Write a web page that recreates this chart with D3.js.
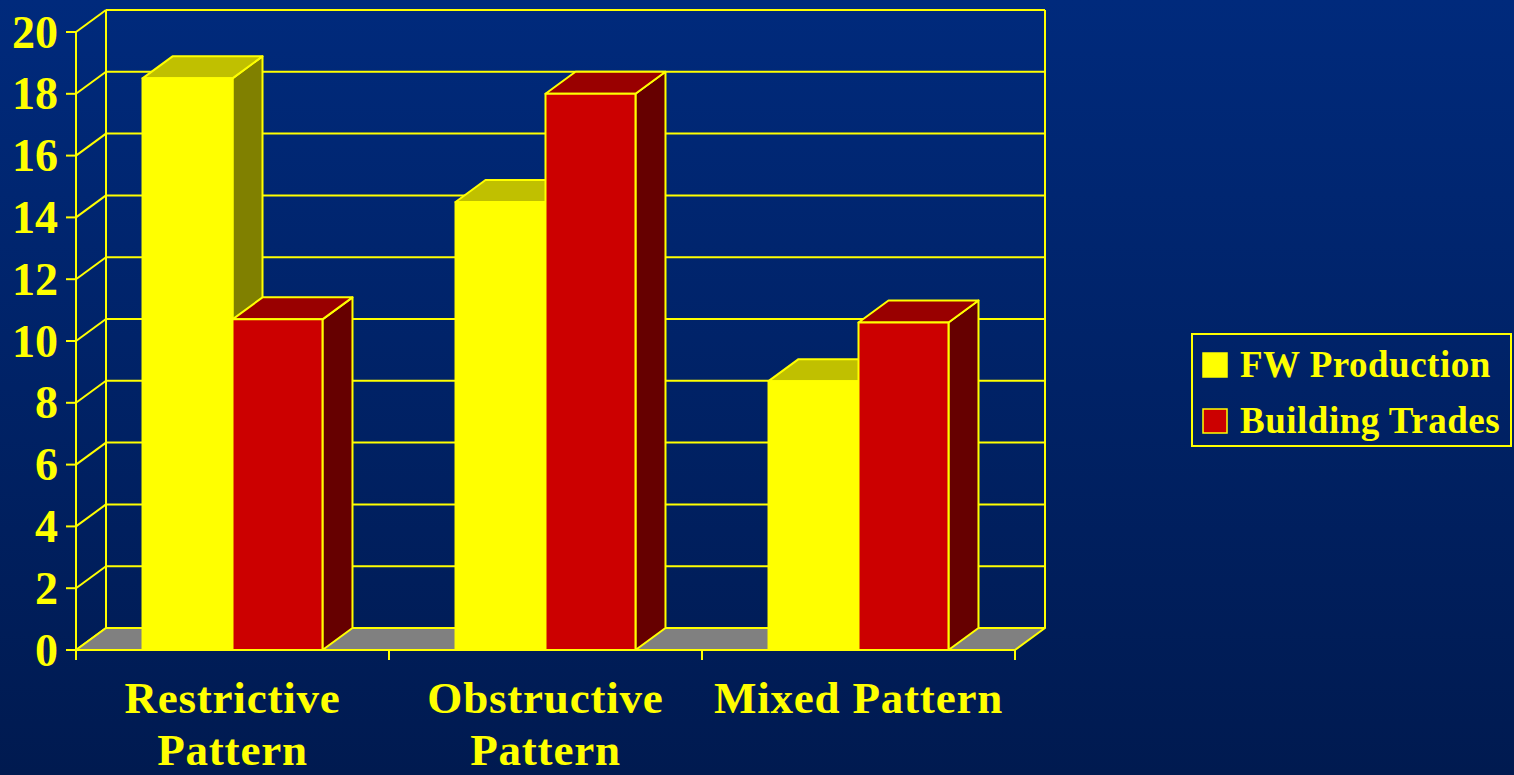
<!DOCTYPE html>
<html>
<head>
<meta charset="utf-8">
<script src="https://cdn.jsdelivr.net/npm/d3@7"></script>
<style>
  html, body { margin: 0; padding: 0; background: #001d57; }
  svg { display: block; }
</style>
</head>
<body>
<div id="chart"></div>
<script>
// chart values
const categories = ["Restrictive Pattern", "Obstructive Pattern", "Mixed Pattern"];
const categoryLines = [["Restrictive", "Pattern"], ["Obstructive", "Pattern"], ["Mixed Pattern"]];
const seriesNames = ["FW Production", "Building Trades"];
const fwProduction = [18.5, 14.5, 8.7];
const buildingTrades = [10.7, 18.0, 10.6];
const yTicks = [0, 2, 4, 6, 8, 10, 12, 14, 16, 18, 20];

const width = 1514, height = 775;
const depthX = 30, depthY = -22;   // 3d offset of the back wall
const font = "'Liberation Serif', 'Times New Roman', serif";
const yellow = "#ffff00";

// face colours per series: front, top, side
const faces = [
  { front: "#ffff00", top: "#c0c000", side: "#808000" },
  { front: "#cc0000", top: "#990000", side: "#660000" }
];

const svg = d3.select("#chart")
  .append("svg")
  .attr("width", width)
  .attr("height", height);

// background gradient
const grad = svg.append("defs").append("linearGradient")
  .attr("id", "bg").attr("x1", 0).attr("y1", 0).attr("x2", 0).attr("y2", 1);
grad.append("stop").attr("offset", "0%").attr("stop-color", "#002a7c");
grad.append("stop").attr("offset", "100%").attr("stop-color", "#001a50");
svg.append("rect").attr("width", width).attr("height", height).attr("fill", "url(#bg)");

// scales
const y = d3.scaleLinear().domain([0, 20]).range([650, 32]);
const x = d3.scaleBand()
  .domain(categories)
  .range([76, 1015])
  .paddingInner(0.425)
  .paddingOuter(0.2125);
const xs = d3.scaleBand().domain(seriesNames).range([0, x.bandwidth()]);

const x0 = x.range()[0], x1 = x.range()[1];

// back wall gridlines
const walls = svg.append("g")
  .attr("stroke", yellow)
  .attr("stroke-width", 2)
  .attr("fill", "none");

walls.selectAll(".grid")
  .data(yTicks)
  .join("line")
  .attr("x1", x0 + depthX).attr("x2", x1 + depthX)
  .attr("y1", d => y(d) + depthY).attr("y2", d => y(d) + depthY);

// left side wall diagonals
walls.selectAll(".side")
  .data(yTicks)
  .join("line")
  .attr("x1", x0).attr("x2", x0 + depthX)
  .attr("y1", d => y(d)).attr("y2", d => y(d) + depthY);

// back wall verticals
[x0 + depthX, x1 + depthX].forEach(px => {
  walls.append("line")
    .attr("x1", px).attr("x2", px)
    .attr("y1", y(0) + depthY).attr("y2", y(20) + depthY);
});

// floor
svg.append("path")
  .attr("d", `M${x0},${y(0)}L${x1},${y(0)}L${x1 + depthX},${y(0) + depthY}L${x0 + depthX},${y(0) + depthY}Z`)
  .attr("fill", "#808080")
  .attr("stroke", yellow)
  .attr("stroke-width", 2)
  .attr("stroke-linejoin", "round");

// bars
const seriesValues = [fwProduction, buildingTrades];
const bars = svg.append("g")
  .attr("stroke", yellow)
  .attr("stroke-width", 2)
  .attr("stroke-linejoin", "round");

categories.forEach((cat, ci) => {
  seriesNames.forEach((s, si) => {
    const v = seriesValues[si][ci];
    const bx = x(cat) + xs(s);
    const bw = xs.bandwidth();
    const top = y(v), base = y(0);
    const f = faces[si];
    // side face
    bars.append("path")
      .attr("d", `M${bx + bw},${top}L${bx + bw + depthX},${top + depthY}L${bx + bw + depthX},${base + depthY}L${bx + bw},${base}Z`)
      .attr("fill", f.side);
    // top face
    bars.append("path")
      .attr("d", `M${bx},${top}L${bx + depthX},${top + depthY}L${bx + bw + depthX},${top + depthY}L${bx + bw},${top}Z`)
      .attr("fill", f.top);
    // front face
    bars.append("rect")
      .attr("x", bx).attr("y", top)
      .attr("width", bw).attr("height", base - top)
      .attr("fill", f.front);
  });
});

// front value axis
const axis = svg.append("g")
  .attr("stroke", yellow)
  .attr("stroke-width", 2);
axis.append("line")
  .attr("x1", x0).attr("x2", x0)
  .attr("y1", y(0)).attr("y2", y(20));
axis.selectAll(".tick")
  .data(yTicks)
  .join("line")
  .attr("x1", x0 - 10).attr("x2", x0)
  .attr("y1", d => y(d)).attr("y2", d => y(d));

// category ticks below the floor
axis.selectAll(".xtick")
  .data(d3.range(categories.length + 1))
  .join("line")
  .attr("x1", i => x0 + i * x.step()).attr("x2", i => x0 + i * x.step())
  .attr("y1", y(0)).attr("y2", y(0) + 10);

// y labels
svg.append("g")
  .selectAll("text")
  .data(yTicks)
  .join("text")
  .attr("x", 58)
  .attr("y", d => y(d))
  .attr("dy", "0.34em")
  .attr("text-anchor", "end")
  .attr("fill", yellow)
  .style("font-family", font)
  .style("font-weight", "bold")
  .style("font-size", "46px")
  .text(d => d);

// category labels
const catLabels = svg.append("g")
  .selectAll("text")
  .data(categories)
  .join("text")
  .attr("text-anchor", "middle")
  .attr("fill", yellow)
  .style("font-family", font)
  .style("font-weight", "bold")
  .style("font-size", "45px")
  .style("letter-spacing", "0.8px");
catLabels.each(function (d, i) {
  const cx = x(d) + x.bandwidth() / 2;
  d3.select(this).selectAll("tspan")
    .data(categoryLines[i])
    .join("tspan")
    .attr("x", cx)
    .attr("y", (t, j) => 713 + j * 52)
    .text(t => t);
});

// legend
const legend = svg.append("g");
legend.append("rect")
  .attr("x", 1192).attr("y", 334)
  .attr("width", 319).attr("height", 112)
  .attr("fill", "none")
  .attr("stroke", yellow)
  .attr("stroke-width", 2);
seriesNames.forEach((s, i) => {
  legend.append("rect")
    .attr("x", 1203).attr("y", 353 + i * 56)
    .attr("width", 24).attr("height", 24)
    .attr("fill", faces[i].front)
    .attr("stroke", yellow)
    .attr("stroke-width", 1.5);
  legend.append("text")
    .attr("x", 1240).attr("y", 377 + i * 56)
    .attr("fill", yellow)
    .style("font-family", font)
    .style("font-weight", "bold")
    .style("font-size", "37px")
    .style("letter-spacing", "0.5px")
    .text(s);
});
</script>
</body>
</html>
